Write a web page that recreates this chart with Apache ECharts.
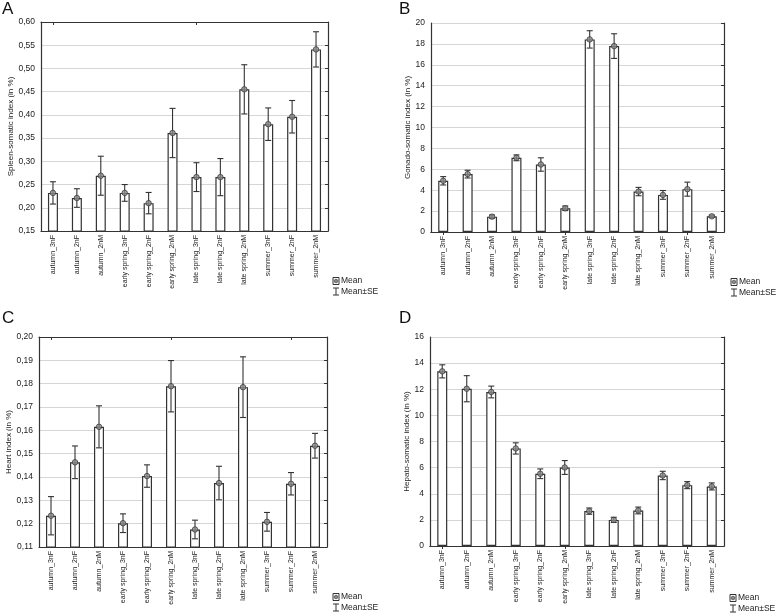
<!DOCTYPE html>
<html>
<head>
<meta charset="utf-8">
<script src="https://cdn.jsdelivr.net/npm/echarts@6/dist/echarts.min.js"></script>
<style>html,body{margin:0;padding:0;background:#fff}#c{width:778px;height:614px}</style>
</head>
<body>
<div id="c"></div>
<script>
const categories = ['autumn_3nF','autumn_2nF','autumn_2nM','early spring_3nF','early spring_2nF','early spring_2nM','late spring_3nF','late spring_2nF','late spring_2nM','summer_3nF','summer_2nF','summer_2nM'];

const spleenMean = [0.232,0.221,0.269,0.232,0.210,0.361,0.266,0.266,0.455,0.380,0.396,0.541];
const spleenSE   = [0.024,0.020,0.042,0.018,0.023,0.053,0.031,0.040,0.053,0.035,0.035,0.038];
const gonadoMean = [4.90,5.54,1.47,7.10,6.46,2.27,18.43,17.79,3.87,3.55,4.10,1.50];
const gonadoSE   = [0.40,0.37,0.15,0.28,0.64,0.22,0.83,1.18,0.40,0.42,0.67,0.11];
const heartMean  = [0.1234,0.1463,0.1615,0.1202,0.1404,0.1789,0.1175,0.1374,0.1785,0.1208,0.1371,0.1534];
const heartSE    = [0.0082,0.0070,0.0090,0.0040,0.0048,0.0110,0.0040,0.0072,0.0130,0.0040,0.0048,0.0053];
const hepatoMean = [13.37,12.04,11.79,7.47,5.53,6.01,2.67,2.00,2.72,5.40,4.66,4.56];
const hepatoSE   = [0.50,1.00,0.45,0.43,0.37,0.53,0.24,0.20,0.26,0.32,0.27,0.27];

const legendLabels = ['Mean', 'Mean\u00B1SE'];

const panels = [
  {letter:'A', name:'Spleen-somatic index (in %)', mean:spleenMean, se:spleenSE, min:0.15, max:0.60, interval:0.05, dec:2,
   grid:{left:41, top:22, width:287, height:209}, nameGap:26, letterPos:[2,1], legendPos:[333,281]},
  {letter:'B', name:'Gonado-somatic index (in %)', mean:gonadoMean, se:gonadoSE, min:0, max:20, interval:2, dec:0,
   grid:{left:431, top:23, width:293, height:209}, nameGap:18, letterPos:[399,1], legendPos:[731,282]},
  {letter:'C', name:'Heart index (in %)', mean:heartMean, se:heartSE, min:0.11, max:0.20, interval:0.01, dec:2,
   grid:{left:39, top:337, width:288, height:210}, nameGap:25, letterPos:[2,310], legendPos:[333,597]},
  {letter:'D', name:'Hepato-somatic index (in %)', mean:hepatoMean, se:hepatoSE, min:0, max:16, interval:2, dec:0,
   grid:{left:430, top:337, width:294, height:209}, nameGap:18, letterPos:[399,310], legendPos:[730,598]}
];

const FONT = 'Liberation Sans, Arial, sans-serif';
const INK = '#333';

function errRender(params, api) {
  const x = api.value(0);
  const pHi = api.coord([x, api.value(2)]);
  const pLo = api.coord([x, api.value(1)]);
  const w = 3;
  const st = {stroke: INK, lineWidth: 1.1};
  return {type:'group', children:[
    {type:'line', shape:{x1:pHi[0], y1:pHi[1], x2:pLo[0], y2:pLo[1]}, style:st},
    {type:'line', shape:{x1:pHi[0]-w, y1:pHi[1], x2:pHi[0]+w, y2:pHi[1]}, style:st},
    {type:'line', shape:{x1:pLo[0]-w, y1:pLo[1], x2:pLo[0]+w, y2:pLo[1]}, style:st}
  ]};
}

const grid = [], xAxis = [], yAxis = [], series = [], graphic = [];
const axisLine = {show:true, lineStyle:{color:INK, width:1.2}};

panels.forEach((p, i) => {
  grid.push(Object.assign({containLabel:false}, p.grid));
  xAxis.push({type:'category', gridIndex:i, data:categories, position:'bottom',
    axisLine, axisTick:{show:false},
    axisLabel:{rotate:90, fontSize:7, fontFamily:FONT, color:'#222', margin:4, interval:0},
    splitLine:{show:false}});
  yAxis.push({type:'value', gridIndex:i, min:p.min, max:p.max, interval:p.interval, position:'left',
    name:p.name, nameLocation:'middle', nameGap:p.nameGap, nameRotate:90,
    nameTextStyle:{fontSize:8, fontFamily:FONT, color:'#222'},
    axisLine, axisTick:{show:false},
    axisLabel:{fontSize:8.5, fontFamily:FONT, color:'#222', margin:6,
      formatter: v => p.dec ? v.toFixed(p.dec).replace('.', ',') : String(Math.round(v))},
    splitLine:{show:true, lineStyle:{color:'#d6d6d6', width:1}}});
});
panels.forEach((p, i) => {
  xAxis.push({type:'category', gridIndex:i, data:categories, position:'top',
    axisLine, axisTick:{show:true, inside:true, length:3, alignWithLabel:true, lineStyle:{color:INK}},
    axisLabel:{show:false}, splitLine:{show:false}});
  yAxis.push({type:'value', gridIndex:i, min:p.min, max:p.max, interval:p.interval, position:'right',
    axisLine, axisTick:{show:true, inside:true, length:3, lineStyle:{color:INK}},
    axisLabel:{show:false}, splitLine:{show:false}});
});

panels.forEach((p, i) => {
  series.push({type:'bar', name:'Mean', xAxisIndex:i, yAxisIndex:i, data:p.mean, barWidth:10,
    itemStyle:{color:'#fff', borderColor:INK, borderWidth:1.2}, silent:true, z:2});
  series.push({type:'custom', name:'Mean\u00B1SE', xAxisIndex:i, yAxisIndex:i, renderItem:errRender,
    data:p.mean.map((m, k) => [k, m - p.se[k], m + p.se[k]]), silent:true, z:3});
  series.push({type:'scatter', name:'Mean', xAxisIndex:i, yAxisIndex:i, data:p.mean, symbol:'circle', symbolSize:5.5,
    itemStyle:{color:'#8a8a8a', borderColor:INK, borderWidth:0.9}, silent:true, z:4});

  graphic.push({type:'text', left:p.letterPos[0], top:p.letterPos[1],
    style:{text:p.letter, font:'17px ' + FONT, fill:'#111'}});
  const [lx, ly] = p.legendPos;
  graphic.push({type:'group', x:lx, y:ly, children:[
    {type:'rect', shape:{x:0, y:-3.5, width:6, height:7}, style:{fill:'#fff', stroke:INK, lineWidth:1}},
    {type:'circle', shape:{cx:3, cy:0, r:1.8}, style:{fill:'#888', stroke:INK, lineWidth:0.6}},
    {type:'text', x:8, y:0, style:{text:legendLabels[0], font:'8.5px ' + FONT, fill:'#222', verticalAlign:'middle'}},
    {type:'line', shape:{x1:0, y1:7, x2:6, y2:7}, style:{stroke:INK, lineWidth:1}},
    {type:'line', shape:{x1:3, y1:7, x2:3, y2:14}, style:{stroke:INK, lineWidth:1}},
    {type:'line', shape:{x1:0, y1:14, x2:6, y2:14}, style:{stroke:INK, lineWidth:1}},
    {type:'text', x:8, y:10.5, style:{text:legendLabels[1], font:'8.5px ' + FONT, fill:'#222', verticalAlign:'middle'}}
  ]});
});

const chart = echarts.init(document.getElementById('c'), null, {renderer:'canvas'});
chart.setOption({backgroundColor:'#fff', animation:false, grid, xAxis, yAxis, series, graphic});
</script>
</body>
</html>
